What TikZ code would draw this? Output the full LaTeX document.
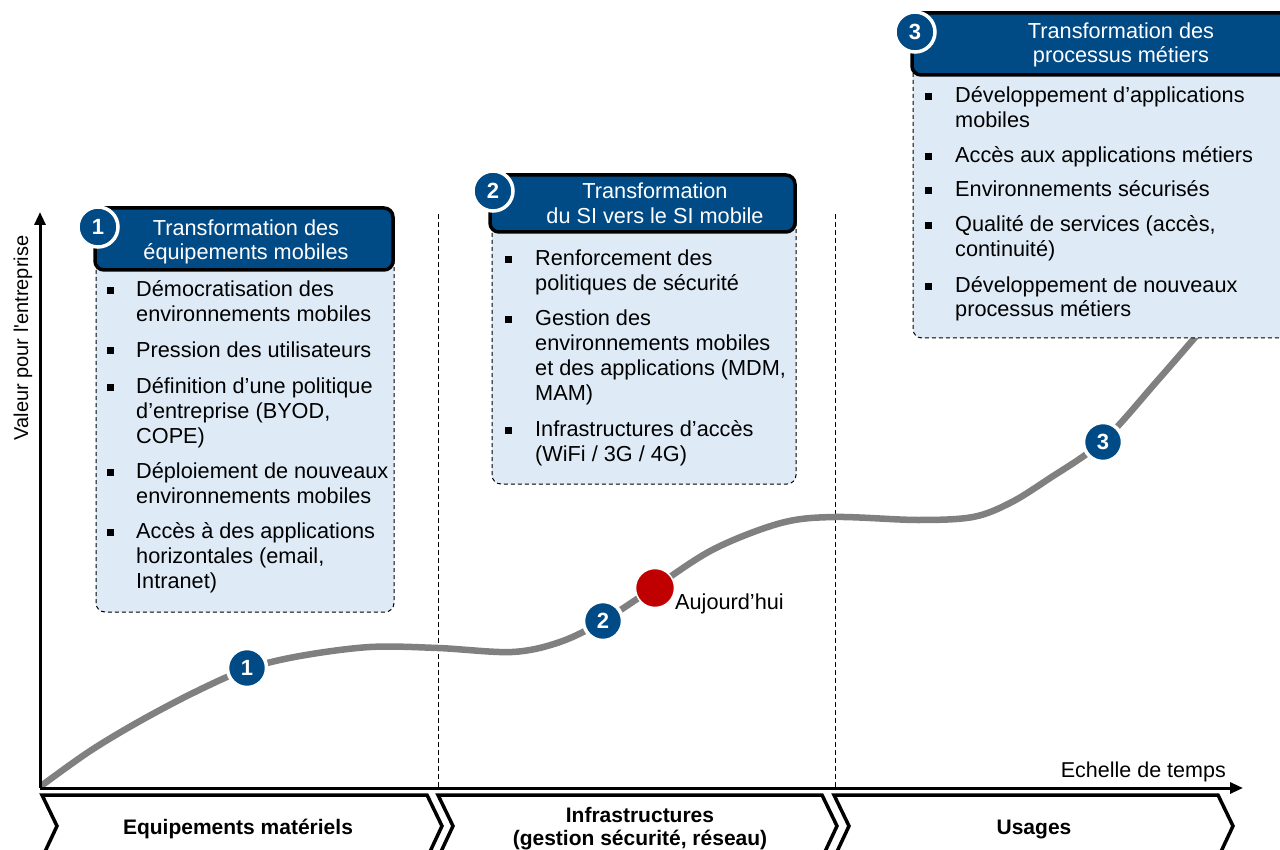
\documentclass[tikz,border=0pt]{standalone}
\usepackage{fontspec}
\setmainfont{Liberation Sans}
\newfontfamily\lblfont{Liberation Sans}[Ligatures=TeXOff]
\usetikzlibrary{arrows.meta}
\definecolor{hdrblue}{RGB}{0,74,134}
\definecolor{boxblue}{RGB}{222,235,247}
\definecolor{curvegray}{RGB}{128,128,128}
\definecolor{redpt}{RGB}{192,0,0}
\begin{document}
\begin{tikzpicture}[x=1pt,y=-1pt,
  txt/.style={anchor=base west, inner sep=0pt, font=\fontsize{21.7}{25}\selectfont},
  htxt/.style={anchor=base, inner sep=0pt, text=white, font=\fontsize{21.7}{25}\selectfont},
  chtxt/.style={anchor=base, inner sep=0pt, font=\bfseries\fontsize{21}{25}\selectfont},
  bul/.style={rectangle, fill=black, minimum size=7pt, inner sep=0pt},
  hdr/.style={draw=black, line width=3.5pt, fill=hdrblue, rounded corners=9pt},
  detail/.style={draw=black, dashed, dash pattern=on 4pt off 3pt, line width=1pt, fill=boxblue, rounded corners=9pt},
  num/.style={circle, fill=hdrblue, draw=white, line width=3.5pt, minimum size=40pt, inner sep=0pt, text=white, font=\bfseries\fontsize{22}{22}\selectfont},
  vdash/.style={black, line width=1pt, dash pattern=on 5pt off 3pt},
  axis/.style={black, line width=3pt, -{Triangle[length=13pt,width=11pt]}},
  chev/.style={draw=black, line width=3.5pt, fill=white, line join=miter},
  curve/.style={curvegray, line width=6.5pt}
]
\useasboundingbox (0,0) rectangle (1280,850);
\fill[white] (0,0) rectangle (1280,850);

% coordinates
\coordinate (O) at (40,788);
\coordinate (ytop) at (40,212);
\coordinate (xend) at (1243,788);
\coordinate (d1t) at (438,214);
\coordinate (d1b) at (438,788);
\coordinate (d2t) at (835,214);
\coordinate (d2b) at (835,788);

% dashed separators
\draw[vdash] (d1t) -- (d1b);
\draw[vdash] (d2t) -- (d2b);

% value curve
\draw[curve] plot[smooth, tension=0.55] coordinates {(41,786) (90,751) (140,721) (195,692) (247,669) (300,656) (370,647) (438,648) (512,652) (560,642) (603,621) (655,587) (714,549) (781,523) (835,517) (918,520) (973,517) (1010,503) (1047,480) (1103,441) (1158,380) (1210,320)};

% axes
\draw[axis] (O) -- (ytop);
\draw[axis] (O) -- (xend);
\node[anchor=base east, inner sep=0pt, font=\fontsize{21.5}{25}\selectfont] (xlab) at (1226,777) {Echelle de temps};
\node[anchor=base, rotate=90, inner sep=0pt, font=\lblfont\fontsize{20}{24}\selectfont] (ylab) at (28,338) {Valeur pour l'entreprise};

% chevrons
\draw[chev] (42,795) -- (427,795) -- (442,826) -- (427,858) -- (42,858) -- (57,826) -- cycle;
\draw[chev] (438,795) -- (822,795) -- (837,826) -- (822,858) -- (438,858) -- (453,826) -- cycle;
\draw[chev] (834,795) -- (1218,795) -- (1233,826) -- (1218,858) -- (834,858) -- (849,826) -- cycle;
\node[chtxt] (ch1) at (238,834) {Equipements matériels};
\node[chtxt] (ch2a) at (640,822) {Infrastructures};
\node[chtxt] (ch2b) at (640,845) {(gestion sécurité, réseau)};
\node[chtxt] (ch3) at (1034,834) {Usages};

% ---------- box 1
\draw[detail] (96,240) rectangle (394,612);
\draw[hdr] (95,208) rectangle (393,270);
\node[htxt] (h1a) at (246,236) {Transformation des};
\node[htxt] (h1b) at (246,260) {équipements mobiles};
\node[num] (n1) at (98,227) {1};
\node[bul] (b11) at (110,291) {};
\node[txt] (t11a) at (136,297) {Démocratisation des};
\node[txt] (t11b) at (136,322) {environnements mobiles};
\node[bul] (b12) at (110,351) {};
\node[txt] (t12a) at (136,357) {Pression des utilisateurs};
\node[bul] (b13) at (110,387) {};
\node[txt] (t13a) at (136,393) {Définition d’une politique};
\node[txt] (t13b) at (136,418) {d’entreprise (BYOD,};
\node[txt] (t13c) at (136,443) {COPE)};
\node[bul] (b14) at (110,472) {};
\node[txt] (t14a) at (136,478) {Déploiement de nouveaux};
\node[txt] (t14b) at (136,503) {environnements mobiles};
\node[bul] (b15) at (110,532) {};
\node[txt] (t15a) at (136,538) {Accès à des applications};
\node[txt] (t15b) at (136,563) {horizontales (email,};
\node[txt] (t15c) at (136,588) {Intranet)};

% ---------- box 2
\draw[detail] (492,210) rectangle (796,484);
\draw[hdr] (490,175) rectangle (795,232);
\node[htxt] (h2a) at (655,199) {Transformation};
\node[htxt] (h2b) at (655,224) {du SI vers le SI mobile};
\node[num] (n2) at (493,191) {2};
\node[bul] (b21) at (508,260) {};
\node[txt] (t21a) at (535,266) {Renforcement des};
\node[txt] (t21b) at (535,291) {politiques de sécurité};
\node[bul] (b22) at (508,320) {};
\node[txt] (t22a) at (535,326) {Gestion des};
\node[txt] (t22b) at (535,351) {environnements mobiles};
\node[txt] (t22c) at (535,375) {et des applications (MDM,};
\node[txt] (t22d) at (535,400) {MAM)};
\node[bul] (b23) at (508,430) {};
\node[txt] (t23a) at (535,436) {Infrastructures d’accès};
\node[txt] (t23b) at (535,461) {(WiFi / 3G / 4G)};

% ---------- box 3
\draw[detail] (913,50) rectangle (1292,338);
\draw[hdr] (912,13) rectangle (1292,75);
\node[htxt] (h3a) at (1121,39) {Transformation des};
\node[htxt] (h3b) at (1121,63) {processus métiers};
\node[num] (n3) at (915,32) {3};
\node[bul] (b31) at (928,97) {};
\node[txt] (t31a) at (955,103) {Développement d’applications};
\node[txt] (t31b) at (955,128) {mobiles};
\node[bul] (b32) at (928,157) {};
\node[txt] (t32a) at (955,163) {Accès aux applications métiers};
\node[bul] (b33) at (928,191) {};
\node[txt] (t33a) at (955,197) {Environnements sécurisés};
\node[bul] (b34) at (928,226) {};
\node[txt] (t34a) at (955,232) {Qualité de services (accès,};
\node[txt] (t34b) at (955,257) {continuité)};
\node[bul] (b35) at (928,287) {};
\node[txt] (t35a) at (955,293) {Développement de nouveaux};
\node[txt] (t35b) at (955,317) {processus métiers};

% ---------- markers on the curve
\node[num, minimum size=39pt] (c1) at (247,668) {1};
\node[num, minimum size=39pt] (c2) at (603,621) {2};
\node[num, minimum size=39pt] (c3) at (1103,442) {3};
\node[circle, fill=redpt, draw=white, line width=1.5pt, minimum size=39pt, inner sep=0pt] (today) at (655,588) {};
\node[txt] (todaylab) at (675,609) {Aujourd’hui};
\end{tikzpicture}
\end{document}
